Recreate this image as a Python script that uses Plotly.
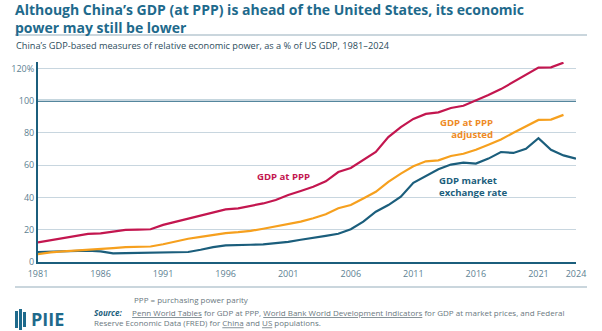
import plotly.graph_objects as go

years = list(range(1981, 2025))

gdp_ppp = [12.1, 13.4, 14.8, 16.3, 17.4, 17.8, 19.0, 19.9, 20.1, 20.3, 23.0, 25.0, 27.0, 28.7, 30.8, 32.6,
           33.3, 34.7, 36.3, 38.4, 41.5, 44.0, 46.6, 50.0, 55.8, 58.3, 63.0, 68.2, 77.4, 83.6, 88.7, 91.8,
           92.8, 95.5, 96.9, 100.0, 103.5, 107.2, 111.7, 116.0, 120.5, 120.7, 123.6, None]

gdp_ppp_adj = [4.9, 6.0, 6.6, 7.0, 7.6, 8.0, 8.6, 9.2, 9.4, 9.6, 11.0, 12.7, 14.4, 15.6, 16.8, 17.9,
               18.5, 19.3, 20.6, 22.0, 23.8, 25.0, 27.1, 29.6, 33.3, 35.3, 39.4, 43.5, 49.7, 54.8, 59.3, 62.4,
               63.0, 65.7, 67.1, 69.6, 72.7, 76.0, 80.1, 84.2, 88.1, 88.3, 91.2, None]

gdp_mer = [6.2, 6.4, 6.6, 6.6, 7.0, 6.6, 5.3, 5.5, 5.7, 6.0, 6.0, 6.2, 6.2, 7.6, 9.2, 10.3,
           10.7, 10.7, 10.9, 11.5, 12.5, 13.8, 14.8, 16.2, 17.5, 20.3, 25.0, 31.2, 35.3, 40.5, 49.1, 53.4,
           57.5, 60.4, 61.6, 61.0, 64.1, 68.2, 67.6, 70.2, 76.8, 69.6, 66.1, 64.1]

y_ticks = [0, 20, 40, 60, 80, 100, 120]
y_tick_text = ["0", "20", "40", "60", "80", "100", "120%"]
x_ticks = [1981, 1986, 1991, 1996, 2001, 2006, 2011, 2016, 2021, 2024]

title_lines = ["Although China’s GDP (at PPP) is ahead of the United States, its economic",
               "power may still be lower"]

RED = "#c3164f"
ORANGE = "#f6a01e"
TEAL = "#1b5e7c"
TITLE = "#1e6a8c"
AXIS_TXT = "#5d7f92"
GRID = "#c8d6df"
RULE = "#b9c8d2"

W, H = 602, 331
ML, MR, MT, MB = 38, 26, 62, 69
PW, PH = W - ML - MR, H - MT - MB


def px(x):
    return (x - ML) / PW


def py(y):
    return (H - MB - y) / PH


fig = go.Figure()
fig.add_trace(go.Scatter(x=years, y=gdp_mer, mode="lines", line=dict(color=TEAL, width=2.2),
                         hoverinfo="skip", showlegend=False))
fig.add_trace(go.Scatter(x=years, y=gdp_ppp_adj, mode="lines", line=dict(color=ORANGE, width=2.2),
                         hoverinfo="skip", showlegend=False))
fig.add_trace(go.Scatter(x=years, y=gdp_ppp, mode="lines", line=dict(color=RED, width=2.2),
                         hoverinfo="skip", showlegend=False))

font = "Open Sans"
annotations = [
    dict(x=px(14), y=py(-1), xref="paper", yref="paper", xanchor="left", yanchor="top",
         text="<b>%s<br>%s</b>" % (title_lines[0], title_lines[1]), borderpad=0,
         align="left", showarrow=False, font=dict(family=font, size=14, color=TITLE)),
    dict(x=px(14), y=py(45.5), xref="paper", yref="paper", xanchor="left", yanchor="middle",
         text="China’s GDP-based measures of relative economic power, as a % of US GDP, 1981–2024",
         showarrow=False, font=dict(family=font, size=9.2, color="#2c4c5c")),
    dict(x=2000.6, y=53, xref="x", yref="y", text="<b>GDP at PPP</b>", showarrow=False,
         font=dict(family=font, size=9.6, color=RED)),
    dict(x=2017.5, y=83, xref="x", yref="y", text="<b>GDP at PPP<br>adjusted</b>", showarrow=False,
         xanchor="right", align="right", font=dict(family=font, size=9.6, color="#ee8a25")),
    dict(x=2012.9, y=47, xref="x", yref="y", text="<b>GDP market<br>exchange rate</b>", showarrow=False,
         xanchor="left", align="left", font=dict(family=font, size=9.6, color=TEAL)),
    dict(x=px(132), y=py(299), xref="paper", yref="paper", xanchor="left", yanchor="middle",
         text="PPP = purchasing power parity", showarrow=False,
         font=dict(family=font, size=8, color="#6a7880")),
    dict(x=px(92), y=py(317.5), xref="paper", yref="paper", xanchor="left", yanchor="middle",
         text="<b><i><span style='color:%s'>Source:</span></i></b>     <u>Penn World Tables</u> for GDP at PPP, "
              "<u>World Bank World Development Indicators</u> for GDP at market prices, and Federal<br>"
              "Reserve Economic Data (FRED) for <u>China</u> and <u>US</u> populations." % TEAL,
         align="left", showarrow=False, font=dict(family=font, size=8, color="#6a7880")),
    dict(x=px(29), y=py(319), xref="paper", yref="paper", xanchor="left", yanchor="middle",
         text="<b>PIIE</b>", showarrow=False, font=dict(family=font, size=18, color=TITLE)),
]

shapes = [
    dict(type="line", xref="paper", yref="paper", x0=px(15), x1=px(587), y0=py(35), y1=py(35),
         line=dict(color=RULE, width=1.5)),
    dict(type="line", xref="paper", yref="paper", x0=px(15), x1=px(587), y0=py(287), y1=py(287),
         line=dict(color=RULE, width=1.5)),
    dict(type="line", xref="paper", yref="y", x0=0, x1=1, y0=100, y1=100,
         line=dict(color=TEAL, width=2), layer="below"),
]
# simple logo glyph
for (x0, y0, x1, y1) in [(15, 311, 18, 328), (19, 309, 22, 330), (23, 312, 26, 327)]:
    shapes.append(dict(type="rect", xref="paper", yref="paper", x0=px(x0), x1=px(x1), y0=py(y1), y1=py(y0),
                       fillcolor=TITLE, line=dict(width=0)))

fig.update_layout(
    width=W, height=H,
    margin=dict(l=ML, r=MR, t=MT, b=MB),
    paper_bgcolor="white", plot_bgcolor="white",
    annotations=annotations, shapes=shapes,
    xaxis=dict(range=[1981, 2024], tickvals=x_ticks, ticks="", showgrid=False,
               showline=True, linecolor=TEAL, linewidth=2, zeroline=False,
               tickfont=dict(family=font, size=9, color=AXIS_TXT), ticklabelstandoff=2),
    yaxis=dict(range=[0, 124], tickvals=y_ticks, ticktext=y_tick_text, ticks="",
               showgrid=True, gridcolor=GRID, gridwidth=1, zeroline=False,
               showline=True, linecolor=TEAL, linewidth=2,
               tickfont=dict(family=font, size=9, color=AXIS_TXT)),
)

fig.write_html("out.html")
